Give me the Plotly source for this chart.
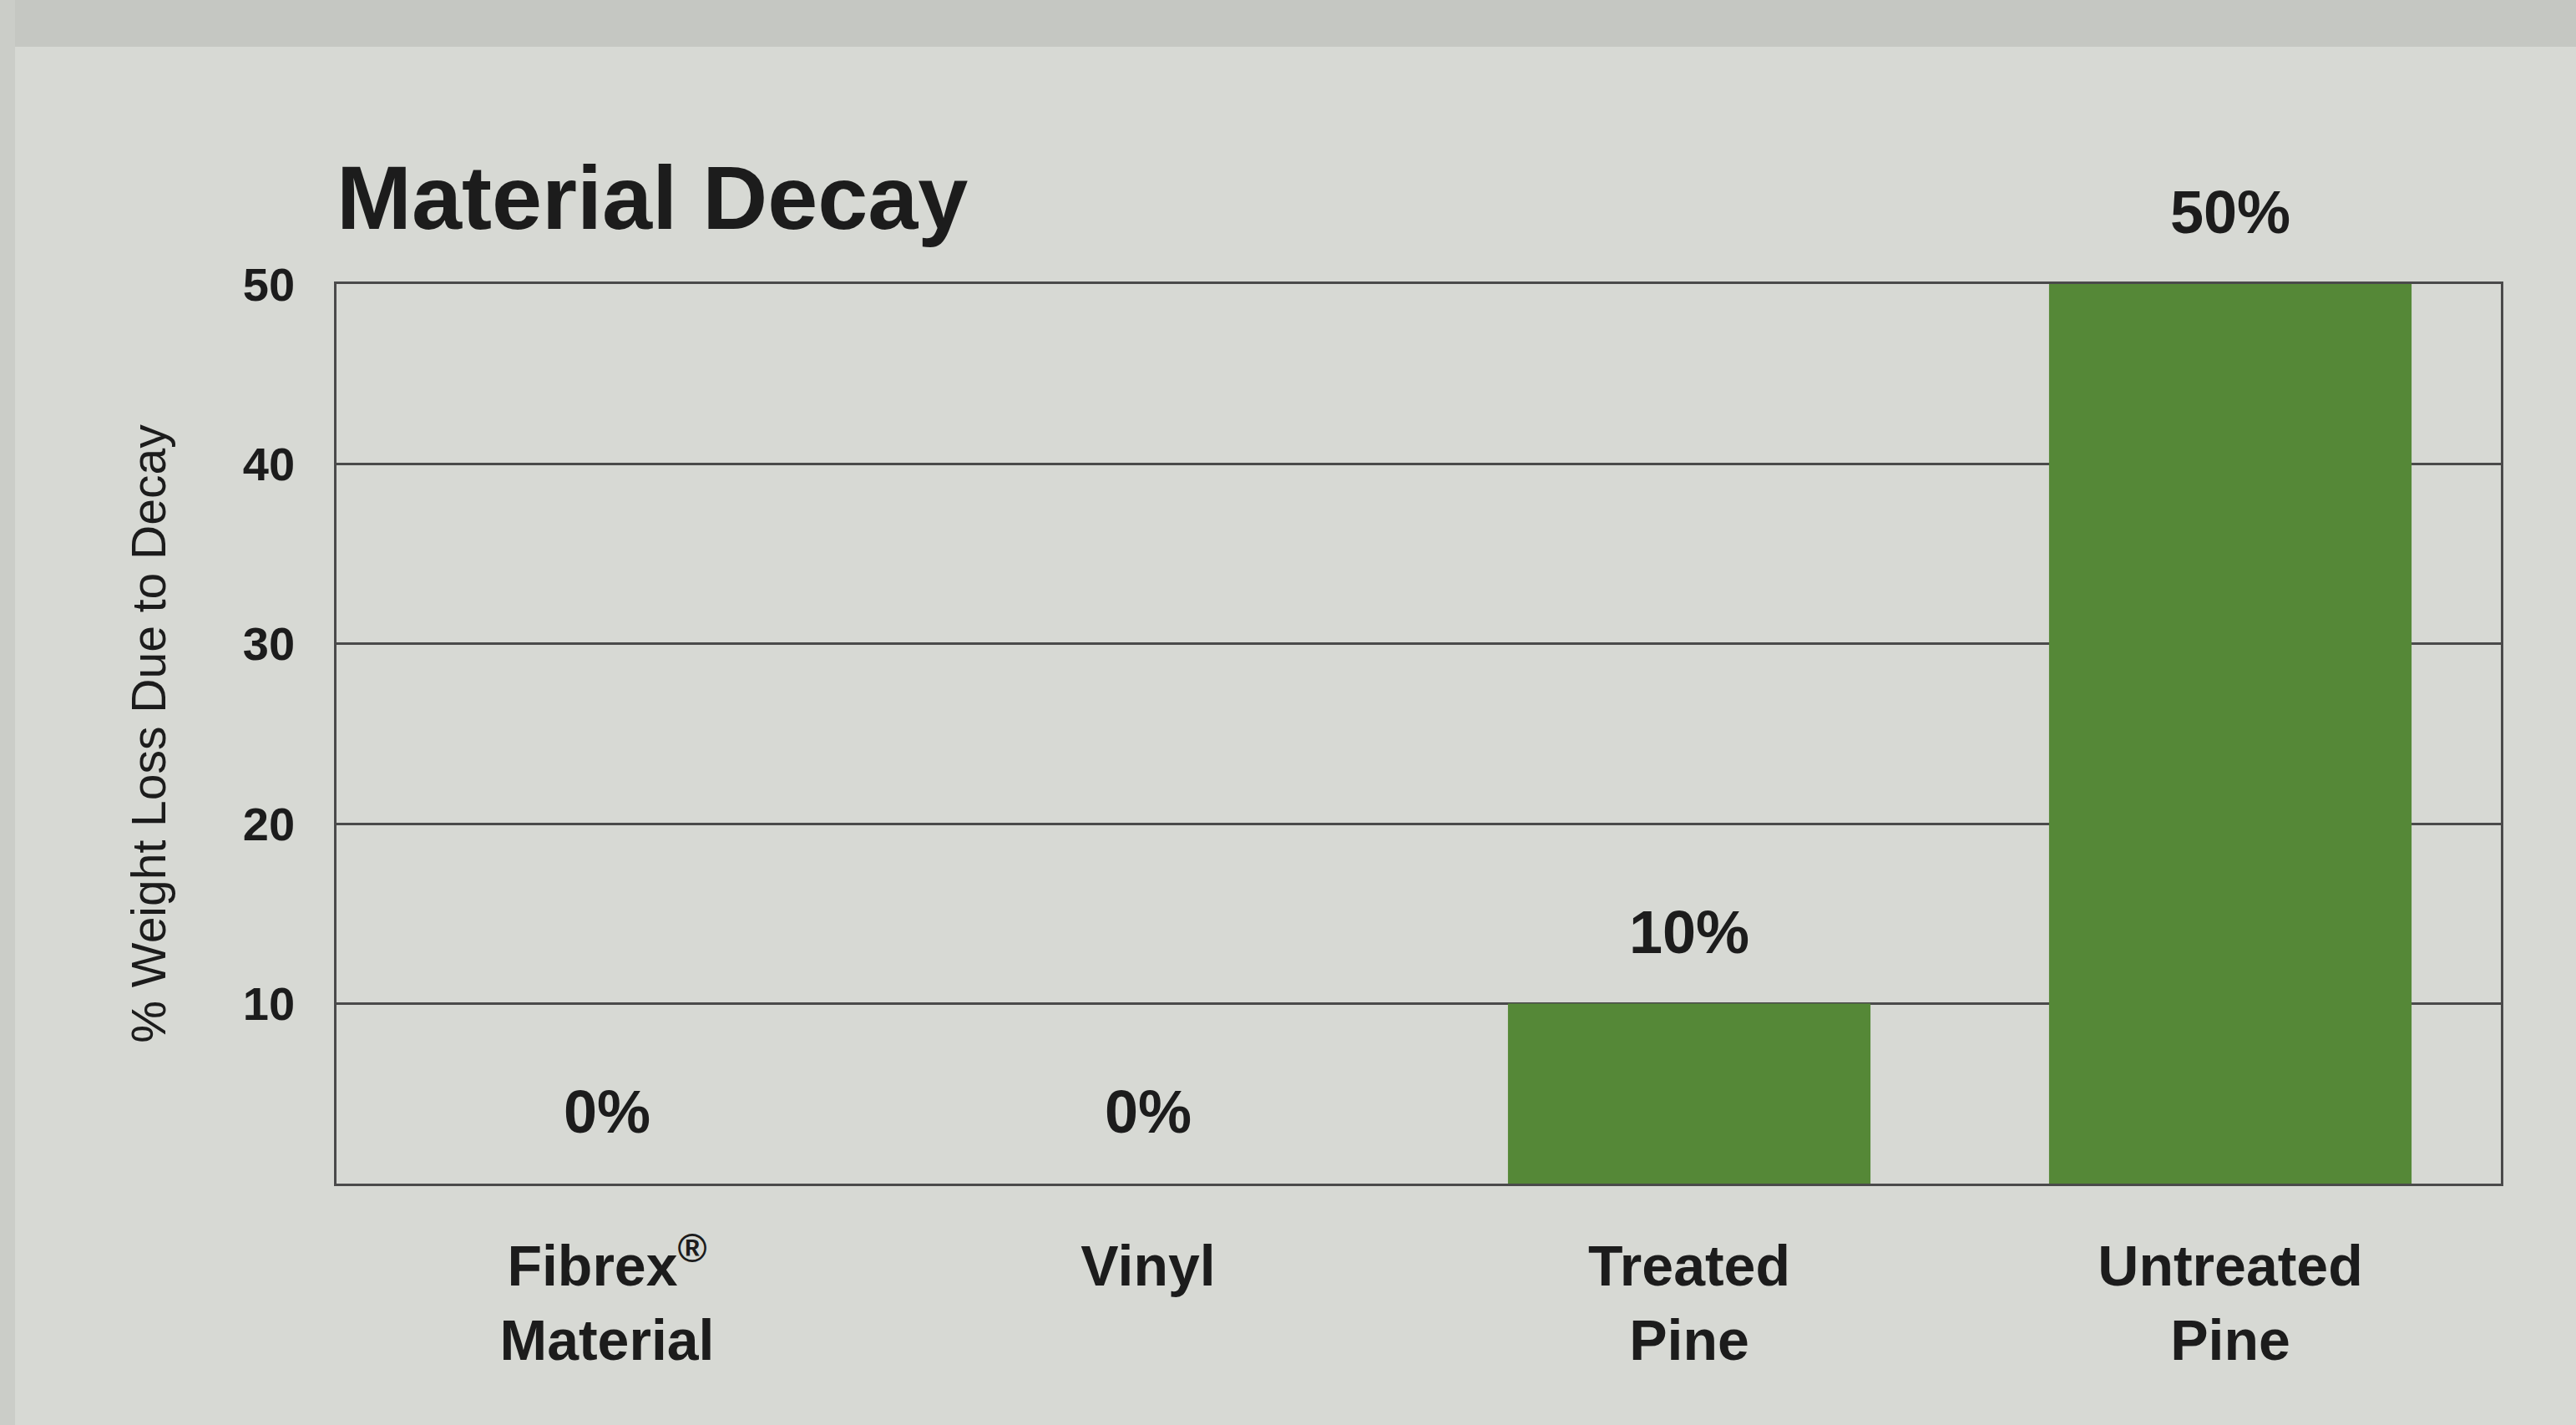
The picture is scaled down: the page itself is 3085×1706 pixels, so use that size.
import plotly.graph_objects as go

categories = ["Fibrex<sup>®</sup><br>Material", "Vinyl", "Treated<br>Pine", "Untreated<br>Pine"]
values = [0, 0, 10, 50]
labels = ["0%", "0%", "10%", "50%"]
tick_vals = [10, 20, 30, 40, 50]
tick_text = ["10", "20", "30", "40", "50"]

BG = "#d7d9d4"
GREEN = "#558837"
INK = "#1c1c1c"
LINE = "#4a4a4a"

fig = go.Figure()
fig.add_trace(go.Bar(
    x=categories, y=values,
    marker=dict(color=GREEN, line=dict(width=0)),
    width=0.67,
    hoverinfo="skip",
))

for c, v, t in zip(categories, values, labels):
    fig.add_annotation(x=c, y=v, text="<b>" + t + "</b>", showarrow=False, yanchor="middle",
                       yshift=86, font=dict(family="Liberation Sans, Arial", size=72, color=INK))

fig.update_layout(
    width=3085, height=1706,
    margin=dict(l=403, r=90, t=340, b=289),
    paper_bgcolor=BG, plot_bgcolor=BG,
    showlegend=False,
    title=dict(text="<b>Material Decay</b>", x=403/3085, xref="container", xanchor="left",
               y=1-236/1706, yref="container", yanchor="middle",
               font=dict(family="Liberation Sans, Arial", size=108, color=INK)),
    shapes=[
        dict(type="rect", xref="paper", yref="paper", x0=-1, x1=2, y0=1 + (340-56)/1077, y1=2,
             fillcolor="#c5c7c2", line=dict(width=0), layer="below"),
        dict(type="rect", xref="paper", yref="paper", x0=-1, x1=-(403-18)/2592, y0=-1, y1=2,
             fillcolor="#cbcdc8", line=dict(width=0), layer="below"),
    ],
)

fig.update_yaxes(
    range=[0, 50], tickvals=tick_vals, ticktext=["<b>" + t + "</b>" for t in tick_text],
    showgrid=True, gridcolor=LINE, gridwidth=2.5,
    showline=True, linecolor=LINE, linewidth=2.5, mirror=True,
    ticks="outside", ticklen=36, tickcolor="rgba(0,0,0,0)",
    tickfont=dict(family="Liberation Sans, Arial", size=56, color=INK),
    title=dict(text="% Weight Loss Due to Decay", standoff=74,
               font=dict(family="Liberation Sans Narrow, Liberation Sans, Arial", size=57, color=INK)),
    zeroline=False, fixedrange=True,
)
fig.update_xaxes(
    showline=True, linecolor=LINE, linewidth=2.5, mirror=True,
    ticks="outside", ticklen=38, tickcolor="rgba(0,0,0,0)",
    tickfont=dict(family="Liberation Sans, Arial", size=68, color=INK),
    tickprefix="<b>", ticksuffix="</b>",
    fixedrange=True,
)

fig.write_html("out.html")
